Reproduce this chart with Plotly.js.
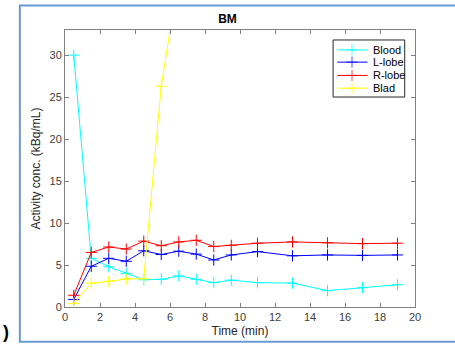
<!DOCTYPE html>
<html><head><meta charset="utf-8">
<script src="https://cdn.plot.ly/plotly-3.0.1.min.js"></script>
<style>html,body{margin:0;padding:0;background:#fff;}#chart{width:455px;height:347px;}</style>
</head><body><div id="chart"></div>
<script>
const timeMin = [0.5,1.5,2.5,3.5,4.5,5.5,6.5,7.5,8.5,9.5,11,13,15,17,19];
const blood = [30,5.8,4.8,4.0,3.25,3.3,3.7,3.3,2.9,3.2,2.9,2.85,1.95,2.3,2.65];
const lLobe = [0.9,4.85,5.8,5.45,6.7,6.25,6.65,6.3,5.6,6.2,6.6,6.1,6.2,6.15,6.2];
const rLobe = [1.4,6.5,7.15,6.9,7.85,7.3,7.75,7.95,7.2,7.35,7.6,7.75,7.65,7.55,7.6];
const bladTime = [0.5,1.5,2.5,3.5,4.5,5.5,6.5];
const blad = [0.4,2.85,3.05,3.35,3.35,26.3,39.5];
const seriesNames = ['Blood','L-lobe','R-lobe','Blad'];
const seriesColors = ['#00ffff','#0000ff','#ff0000','#ffff00'];
const xTicks = [0,2,4,6,8,10,12,14,16,18,20];
const yTicks = [0,5,10,15,20,25,30];

const FONT = 'Liberation Sans, Arial, sans-serif';
function tr(x, y, name, color){
  return {x:x, y:y, name:name, type:'scatter', mode:'lines+markers', showlegend:false,
    line:{color:color, width:1},
    marker:{symbol:'cross-thin', size:8, line:{color:color, width:1}, color:color}};
}
const data = [
  tr(timeMin, blood, seriesNames[0], seriesColors[0]),
  tr(timeMin, lLobe, seriesNames[1], seriesColors[1]),
  tr(timeMin, rLobe, seriesNames[2], seriesColors[2]),
  tr(bladTime, blad, seriesNames[3], seriesColors[3])
];

// legend drawn in an overlay axis spanning the plot area (0..1 both ways)
const legBox = {x0:0.766, x1:0.9706, y0:0.758, y1:0.964};
const legRows = [0.928, 0.884, 0.836, 0.790];
const legLine = [0.778, 0.820, 0.864];
const legText = 0.8736;
data.push({x:[legBox.x0,legBox.x1,legBox.x1,legBox.x0,legBox.x0], y:[legBox.y0,legBox.y0,legBox.y1,legBox.y1,legBox.y0],
  xaxis:'x2', yaxis:'y2', type:'scatter', mode:'lines', fill:'toself', fillcolor:'#ffffff',
  line:{color:'#262626', width:1}, showlegend:false, hoverinfo:'skip'});
const annotations = [];
seriesNames.forEach(function(n, i){
  data.push({x:legLine, y:[legRows[i],legRows[i],legRows[i]], xaxis:'x2', yaxis:'y2', type:'scatter',
    mode:'lines+markers', showlegend:false, hoverinfo:'skip',
    line:{color:seriesColors[i], width:1},
    marker:{symbol:'cross-thin', size:[0,8,0], line:{color:seriesColors[i], width:1}, color:seriesColors[i]}});
  annotations.push({text:n, xref:'x2', yref:'y2', x:legText, y:legRows[i], xanchor:'left', yanchor:'middle',
    showarrow:false, font:{family:FONT, size:11, color:'#000'}});
});
annotations.push({text:'<b>)</b>', xref:'paper', yref:'paper', x:-0.184, y:-0.09, xanchor:'left', yanchor:'middle', showarrow:false,
     font:{family:FONT, size:18, color:'#000'}});

const axisCommon = {showgrid:false, zeroline:false, showline:true, linecolor:'#808080', linewidth:1,
  mirror:'ticks', ticks:'inside', ticklen:4, tickcolor:'#808080',
  tickfont:{family:FONT, size:11, color:'#404040'}};
const layout = {
  width:455, height:347,
  margin:{l:64.5, r:40, t:30, b:40},
  paper_bgcolor:'#ffffff', plot_bgcolor:'#ffffff',
  title:{text:'<b>BM</b>', font:{family:FONT, size:12, color:'#000'}, x:0.5, xanchor:'center', y:0.945, yanchor:'middle'},
  xaxis:Object.assign({}, axisCommon, {range:[0,20], tickvals:xTicks, ticktext:xTicks.map(String),
    title:{text:'Time (min)', font:{family:FONT, size:12, color:'#262626'}, standoff:4}}),
  yaxis:Object.assign({}, axisCommon, {range:[0,33], tickvals:yTicks, ticktext:yTicks.map(String),
    title:{text:'Activity conc. (kBq/mL)', font:{family:FONT, size:12, color:'#262626'}, standoff:6}}),
  xaxis2:{overlaying:'x', range:[0,1], visible:false, fixedrange:true},
  yaxis2:{overlaying:'y', range:[0,1], visible:false, fixedrange:true},
  showlegend:false,
  shapes:[
    {type:'rect', xref:'paper', yref:'paper', x0:-0.129, x1:1.2, y0:-0.125, y1:1.088,
     line:{color:'#6a9ad4', width:2}, fillcolor:'rgba(0,0,0,0)', layer:'below'}
  ],
  annotations:annotations
};
Plotly.newPlot('chart', data, layout, {displayModeBar:false, staticPlot:true});
</script></body></html>
